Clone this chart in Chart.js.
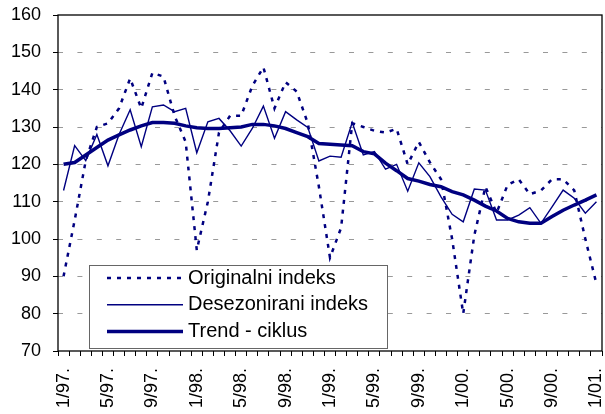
<!DOCTYPE html>
<html>
<head>
<meta charset="utf-8">
<script src="https://cdn.jsdelivr.net/npm/chart.js@4"></script>
<style>
  html, body { margin: 0; padding: 0; background: #fff; }
  #wrap { width: 605px; height: 414px; }
</style>
</head>
<body>
<div id="wrap"><canvas id="indexChart" width="605" height="414"></canvas></div>
<script>
// months 1/97. .. 1/01.
const months = [
  '1/97.','2/97.','3/97.','4/97.','5/97.','6/97.','7/97.','8/97.','9/97.','10/97.','11/97.','12/97.',
  '1/98.','2/98.','3/98.','4/98.','5/98.','6/98.','7/98.','8/98.','9/98.','10/98.','11/98.','12/98.',
  '1/99.','2/99.','3/99.','4/99.','5/99.','6/99.','7/99.','8/99.','9/99.','10/99.','11/99.','12/99.',
  '1/00.','2/00.','3/00.','4/00.','5/00.','6/00.','7/00.','8/00.','9/00.','10/00.','11/00.','12/00.',
  '1/01.'
];

const seriesNames = ['Originalni indeks', 'Desezonirani indeks', 'Trend - ciklus'];

const original = [
  90, 105, 121, 130, 131, 135, 143, 135, 144.5, 143.5, 133, 126,
  97, 110, 128.5, 133, 133, 141, 146, 135, 142, 139.5, 131, 114,
  95, 103, 131, 130, 129, 128.5, 129.5, 120, 126, 120.5, 116, 100,
  80, 101, 114, 107, 114.5, 116, 112, 113, 116, 116, 113, 100,
  88
];

const desez = [
  113, 125, 121, 128, 119.6, 128, 134.6, 124.7, 135.4, 135.9, 134.1, 135,
  123.1, 131.4, 132.3, 129, 124.9, 129.6, 135.6, 127, 134.1, 131.9, 129.9, 120.9,
  122.2, 121.9, 131.2, 122.5, 123.4, 118.7, 120, 112.8, 120.4, 116.7, 111.3, 106.6,
  104.6, 113.4, 113.1, 105.1, 105.1, 106.4, 108.4, 104.2, 108.6, 113.1, 110.9, 106.9,
  110
];

const trend = [
  120, 120.5, 122.5, 124.5, 126.5, 127.9, 129.2, 130.3, 131.2, 131.2, 131, 130.3,
  129.8, 129.6, 129.6, 129.8, 130, 130.7, 130.7, 130.3, 129.6, 128.5, 127.4, 125.6,
  125.4, 125.2, 125, 123.4, 122.8, 120.3, 118.3, 116.2, 115.5, 114.6, 114, 112.7,
  111.8, 110.4, 108.8, 107.5, 105.5, 104.6, 104.2, 104.2, 106, 107.7, 109.1, 110.4,
  111.8
];

const FONT = "'Liberation Sans', Arial, sans-serif";
const NAVY = '#000080';

// legend box drawn inside the plot, like the Excel original
const boxLegend = {
    id: 'boxLegend',
    afterDatasetsDraw(chart) {
        const ctx = chart.ctx;
        const x = 89, y = 265, w = 298, h = 83;
        ctx.save();
        ctx.fillStyle = '#fff';
        ctx.fillRect(x, y, w, h);
        ctx.strokeStyle = '#666';
        ctx.lineWidth = 1;
        ctx.strokeRect(x + 0.5, y + 0.5, w, h);
        ctx.font = '20px ' + FONT;
        ctx.textBaseline = 'middle';
        chart.data.datasets.forEach((ds, i) => {
            const ry = 278 + i * 26.8;
            ctx.beginPath();
            ctx.strokeStyle = ds.borderColor;
            ctx.lineWidth = ds.borderWidth;
            ctx.setLineDash(ds.borderDash || []);
            ctx.moveTo(107, ry);
            ctx.lineTo(183, ry);
            ctx.stroke();
            ctx.setLineDash([]);
            ctx.fillStyle = '#000';
            ctx.fillText(ds.label, 188, ry);
        });
        ctx.restore();
    },
    afterDraw(chart) {
        const a = chart.chartArea;
        const ctx = chart.ctx;
        ctx.save();
        ctx.strokeStyle = '#000';
        ctx.lineWidth = 1.3;
        ctx.strokeRect(a.left, a.top, a.right - a.left, a.bottom - a.top);
        ctx.restore();
    }
};

function noPad(scale) {
    scale.paddingLeft = 0;
    scale.paddingRight = 0;
    scale.paddingTop = 0;
    scale.paddingBottom = 0;
}

new Chart(document.getElementById('indexChart'), {
    type: 'line',
    data: {
        labels: months,
        datasets: [{
            label: seriesNames[0],
            data: original,
            borderColor: NAVY,
            borderWidth: 2.5,
            borderDash: [4, 6],
            pointRadius: 0,
            tension: 0
        }, {
            label: seriesNames[1],
            data: desez,
            borderColor: NAVY,
            borderWidth: 1.4,
            pointRadius: 0,
            tension: 0
        }, {
            label: seriesNames[2],
            data: trend,
            borderColor: NAVY,
            borderWidth: 3.5,
            pointRadius: 0,
            tension: 0
        }]
    },
    options: {
        responsive: false,
        animation: false,
        layout: { padding: { top: 15, right: 3, left: 0, bottom: 0 } },
        plugins: {
            legend: { display: false },
            tooltip: { enabled: false }
        },
        scales: {
            x: {
                offset: true,
                grid: { drawOnChartArea: false, tickLength: 5, tickColor: '#000', offset: true },
                border: { display: false },
                ticks: {
                    autoSkip: false,
                    minRotation: 90,
                    maxRotation: 90,
                    padding: 12,
                    color: '#000',
                    font: { family: FONT, size: 18 },
                    callback: function(v, i) { return i % 4 === 0 ? this.getLabelForValue(v) : ''; }
                },
                afterFit(scale) { scale.height = 63; noPad(scale); }
            },
            y: {
                min: 70,
                max: 160,
                grid: {
                    color: c => (c.tick.value === 70 || c.tick.value === 160) ? 'rgba(0,0,0,0)' : '#999',
                    tickColor: '#000',
                    tickLength: 5
                },
                border: { display: false, dash: [5, 14.4] },
                ticks: {
                    stepSize: 10,
                    padding: 12,
                    color: '#000',
                    font: { family: FONT, size: 18 }
                },
                afterFit(scale) { scale.width = 58; noPad(scale); }
            }
        }
    },
    plugins: [boxLegend]
});
</script>
</body>
</html>
